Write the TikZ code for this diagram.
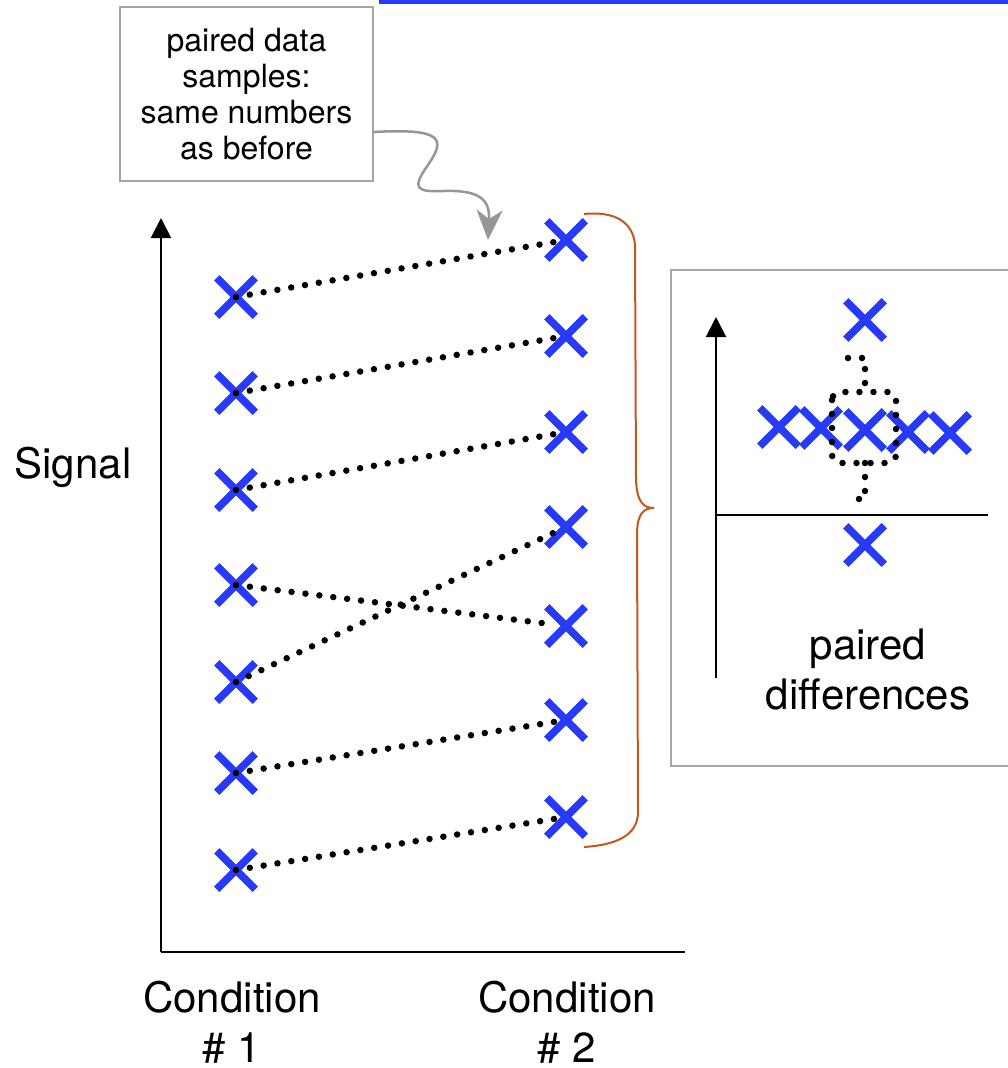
\documentclass[tikz,border=0pt]{standalone}
\usepackage{fontspec}
\setmainfont{TeX Gyre Heros}
\usetikzlibrary{arrows.meta,shapes.misc}
\definecolor{xblue}{RGB}{38,58,248}
\definecolor{bracec}{RGB}{196,86,30}
\definecolor{boxgray}{RGB}{165,165,165}
\definecolor{arrgray}{RGB}{150,150,150}
\begin{document}
\begin{tikzpicture}[x=1pt,y=-1pt,
  xmark/.style={cross out, draw=xblue, line width=7.5pt, minimum size=31pt, inner sep=0pt},
  dotline/.style={line width=6.5pt, line cap=round, dash pattern=on 0pt off 14pt},
  bigtxt/.style={font=\fontsize{42}{50}\selectfont, align=center, inner sep=0pt},
  smalltxt/.style={font=\fontsize{32}{36}\selectfont, align=center},
  axisline/.style={line width=2pt, -{Triangle[width=20pt,length=20pt]}}
]
\useasboundingbox (0,0) rectangle (1008,1068);

% top blue bar
\draw[xblue, line width=3.6pt] (379,1.8) -- (1010,1.8);

% callout box
\node[smalltxt, draw=boxgray, line width=2pt, minimum width=253pt, minimum height=174pt, inner sep=0pt] (call) at (246.5,94)
  {paired data\\samples:\\same numbers\\as before};

% main axes
\coordinate (o) at (161,952);
\coordinate (ytip) at (161,218);
\coordinate (xend) at (685,952);
\draw[line width=2pt] (o) -- (xend);
\draw[axisline] (o) -- (ytip);

% crosses condition 1
\node[xmark] (a1) at (236,297) {};
\node[xmark] (a2) at (236,393) {};
\node[xmark] (a3) at (236,490) {};
\node[xmark] (a4) at (236,585) {};
\node[xmark] (a5) at (236,682) {};
\node[xmark] (a6) at (236,773) {};
\node[xmark] (a7) at (236,870) {};
% crosses condition 2
\node[xmark] (b1) at (566,240) {};
\node[xmark] (b2) at (566,336) {};
\node[xmark] (b3) at (566,432) {};
\node[xmark] (b4) at (566,527) {};
\node[xmark] (b5) at (566,626) {};
\node[xmark] (b6) at (566,720) {};
\node[xmark] (b7) at (566,817) {};

% dotted pair lines
\draw[dotline, shorten >=12pt] (a1.center) -- (b1.center);
\draw[dotline, shorten >=12pt] (a2.center) -- (b2.center);
\draw[dotline, shorten >=12pt] (a3.center) -- (b3.center);
\draw[dotline, shorten >=12pt] (a4.center) -- (b5.center);
\draw[dotline, shorten >=2pt] (a5.center) -- (b4.center);
\draw[dotline, shorten >=12pt] (a6.center) -- (b6.center);
\draw[dotline, shorten >=12pt] (a7.center) -- (b7.center);

% callout arrow
\coordinate (calltip) at (488,240);
\draw[arrgray, line width=2.5pt, -{Stealth[width=26pt,length=30pt,inset=9pt]}]
  (call.east |- 0,132) .. controls (445,128) and (445,140) .. (428,165)
  .. controls (410,190) and (418,192) .. (445,191)
  .. controls (480,190) and (490,200) .. (calltip);

% brace
\draw[bracec, line width=2pt]
  (584,214) .. controls (615,211) and (633,222) .. (635,245)
  -- (636,480) .. controls (637,503) and (644,508) .. (654,508)
  .. controls (644,508) and (637,513) .. (637,535)
  -- (638,812) .. controls (638,836) and (615,845) .. (584,847);

% inset box (open to right edge)
\draw[boxgray, line width=2pt] (1012,270) -- (671,270) -- (671,766) -- (1012,766);

% inset axes
\coordinate (io) at (716,678);
\coordinate (itip) at (716,317);
\draw[axisline] (io) -- (itip);
\draw[line width=2pt] (716,515) -- (988,515);

% inset crosses
\node[xmark] (d1) at (865,320) {};
\node[xmark] (d2) at (779,427) {};
\node[xmark] (d3) at (821,428) {};
\node[xmark] (d4) at (865,430) {};
\node[xmark] (d5) at (908,432) {};
\node[xmark] (d6) at (950,433) {};
\node[xmark] (d7) at (865,545) {};

% dotted box plot
\draw[dotline] (848,358) -- (865,358) -- (865,392);
\draw[dotline, rounded corners=8pt] (832,392) rectangle (896,463);
\draw[dotline] (865,463) -- (865,499) -- (848,499);

% labels
\node[bigtxt] (sig) at (73,467) {Signal};
\node[bigtxt] (c1) at (232,1022) {Condition\\\# 1};
\node[bigtxt] (c2) at (567,1022) {Condition\\\# 2};
\node[bigtxt] (pd) at (868,669) {paired\\differences};
\end{tikzpicture}
\end{document}
